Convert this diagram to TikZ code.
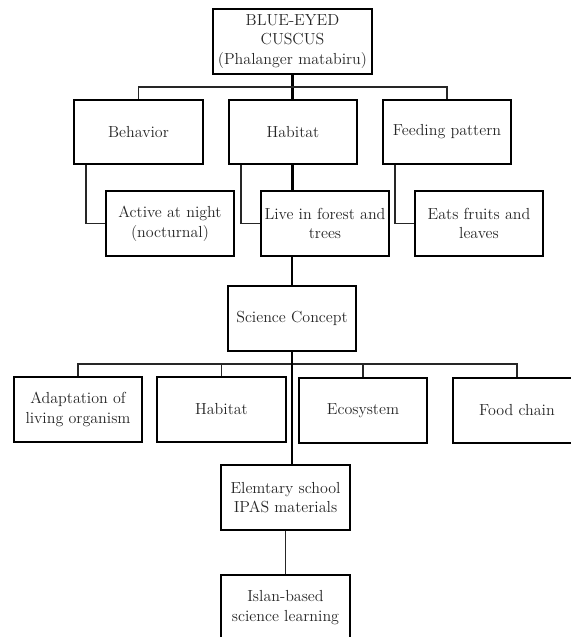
\documentclass[tikz,border=0pt]{standalone}
\usepackage{fontspec}
\begin{document}
\begin{tikzpicture}[x=0.75pt,y=-0.75pt,
  box/.style={draw=black, line width=1.7pt, fill=white, align=center, inner sep=0pt,
    font=\fontsize{12}{14.8}\selectfont, text=black!85},
  sz/.style 2 args={minimum width=#1*0.75pt, minimum height=#2*0.75pt},
  thinlink/.style={draw=black!85, line width=1.1pt},
  thicklink/.style={draw=black, line width=1.7pt}]
\useasboundingbox (0,0) rectangle (571,637);
\clip (0,0) rectangle (571,637);
\fill[white] (0,0) rectangle (571,637);

% nodes
\node[box, sz={159}{65}] (top) at (292.5,41.5) {BLUE-EYED\\CUSCUS\\(Phalanger matabiru)};
\node[box, sz={129}{64}] (beh) at (138.5,132) {Behavior};
\node[box, sz={128}{64}] (hab) at (293,132) {Habitat};
\node[box, sz={128}{64}] (feed) at (447,132) {Feeding pattern};
\node[box, sz={128}{65}] (act) at (170,223.5) {Active at night\\(nocturnal)};
\node[box, sz={128}{65}] (live) at (325,223.5) {Live in forest and\\trees};
\node[box, sz={128}{65}] (eats) at (479,223.5) {Eats fruits and\\leaves};
\node[box, sz={128}{65}] (sci) at (292,318.5) {Science Concept};
\node[box, sz={128}{65}] (adapt) at (78,409.5) {Adaptation of\\living organism};
\node[box, sz={129}{65}] (hab2) at (221.5,409.5) {Habitat};
\node[box, sz={128}{65}] (eco) at (363,410.5) {Ecosystem};
\node[box, sz={128}{65}] (food) at (517,410.5) {Food chain};
\node[box, sz={129}{65}] (elem) at (285.5,497.5) {Elemtary school\\IPAS materials};
\node[box, sz={129}{65}] (islan) at (285.5,607.5) {Islan-based\\science learning};

% bus coordinates
\coordinate (bus1) at (292.5,87);
\coordinate (bus2) at (292,364);

% level 1 connectors
\draw[thicklink] (top.south) -- (top.south |- hab.north);
\draw[thinlink] (beh.north) |- (bus1) -| (feed.north);

% elbow connectors
\draw[thinlink] ([xshift=9.75pt]beh.south west) |- (act.west);
\draw[thinlink] ([xshift=9.75pt]hab.south west) |- (live.west);
\draw[thinlink] ([xshift=9.75pt]feed.south west) |- (eats.west);

% habitat -> live -> science
\draw[thicklink] (hab.south -| top.south) -- (top.south |- live.north);
\draw[thicklink] (sci.north |- live.south) -- (sci.north);

% science concept bus
\draw[thinlink] (adapt.north) |- (bus2) -| (food.north);
\draw[thinlink] (hab2.north) -- (hab2.north |- bus2);
\draw[thinlink] (eco.north) -- (eco.north |- bus2);
\draw[thicklink] (sci.south) -- (sci.south |- elem.north);

% elementary -> islan
\draw[thinlink] (elem.south) -- (islan.north);
\end{tikzpicture}
\end{document}
